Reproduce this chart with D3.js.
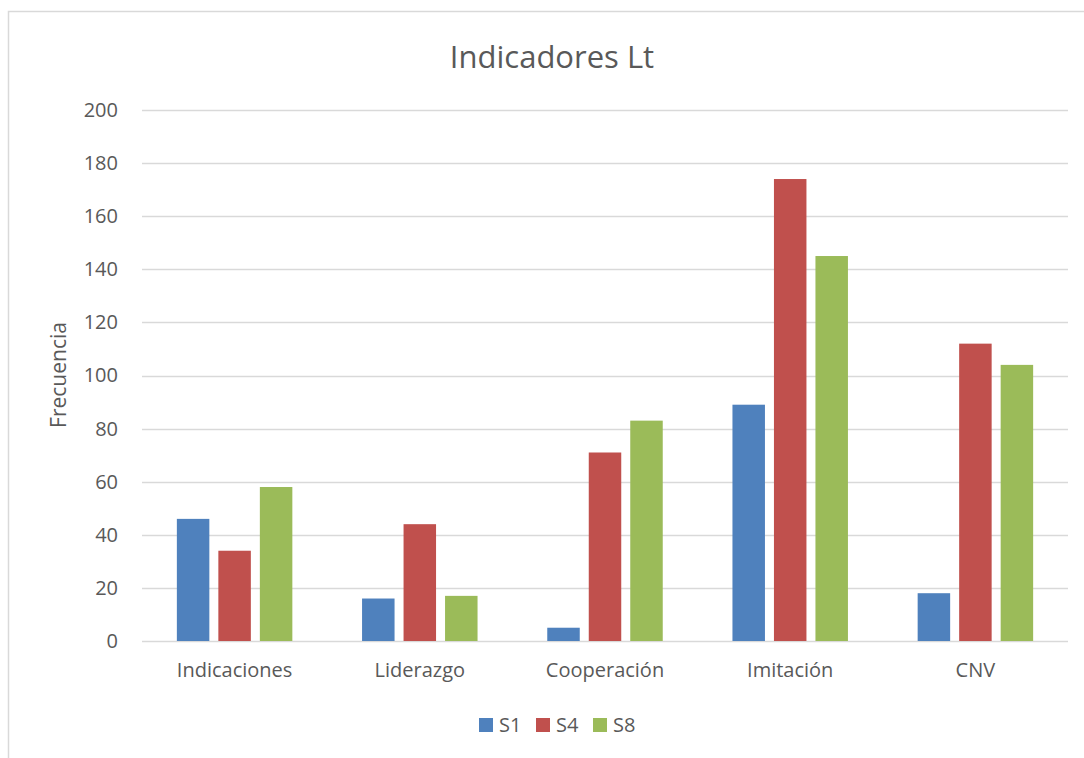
<!DOCTYPE html>
<html>
<head>
<meta charset="utf-8">
<script src="https://cdn.jsdelivr.net/npm/d3@7"></script>
<style>
  html, body { margin: 0; padding: 0; background: #fff; }
  svg { display: block; font-family: "Open Sans", "Liberation Sans", sans-serif; }
</style>
</head>
<body>
<svg id="chart" width="1084" height="758"></svg>
<script>
// Frequency of indicators per session
const categories = ["Indicaciones", "Liderazgo", "Cooperación", "Imitación", "CNV"];
const seriesNames = ["S1", "S4", "S8"];
const s1 = [46, 16, 5, 89, 18];
const s4 = [34, 44, 71, 174, 112];
const s8 = [58, 17, 83, 145, 104];
const yTicks = [0, 20, 40, 60, 80, 100, 120, 140, 160, 180, 200];
const colors = ["#4F81BD", "#C0504D", "#9BBB59"];

const seriesValues = [s1, s4, s8];
const rows = categories.map((c, i) => ({
  category: c,
  values: seriesNames.map((s, j) => ({ series: s, value: seriesValues[j][i] }))
}));

const svg = d3.select("#chart");
const textColor = "#595959";
const labelFont = "\"Open Sans\", sans-serif";

// outer chart frame
svg.append("rect")
  .attr("x", 8.5).attr("y", 11.5)
  .attr("width", 1200).attr("height", 900)
  .attr("fill", "none").attr("stroke", "#D9D9D9").attr("stroke-width", 1.5);

const plot = { left: 142, right: 1068, top: 110, bottom: 641 };

const x0 = d3.scaleBand().domain(categories).range([plot.left, plot.right]).padding(0);
const x1 = d3.scaleBand().domain(seriesNames).range([0, x0.bandwidth()])
  .paddingInner(0.217).paddingOuter(0.84);
const y = d3.scaleLinear().domain([0, 200]).range([plot.bottom, plot.top]);
const color = d3.scaleOrdinal().domain(seriesNames).range(colors);

// horizontal gridlines
svg.append("g")
  .selectAll("line")
  .data(yTicks)
  .join("line")
  .attr("x1", plot.left).attr("x2", plot.right)
  .attr("y1", d => Math.round(y(d)) + 0.5).attr("y2", d => Math.round(y(d)) + 0.5)
  .attr("stroke", "#D9D9D9").attr("stroke-width", 1.5);

// y axis labels
const yAxis = svg.append("g")
  .attr("transform", `translate(${plot.left - 24},0)`)
  .call(d3.axisLeft(y).tickValues(yTicks).tickSize(0).tickPadding(0));
yAxis.select(".domain").remove();
yAxis.selectAll("text")
  .attr("fill", textColor).attr("font-size", 20)
  .attr("font-family", labelFont);

// bars
svg.append("g")
  .selectAll("g")
  .data(rows)
  .join("g")
  .attr("transform", d => `translate(${x0(d.category)},0)`)
  .selectAll("rect")
  .data(d => d.values)
  .join("rect")
  .attr("x", d => x1(d.series))
  .attr("width", x1.bandwidth())
  .attr("y", d => y(d.value))
  .attr("height", d => y(0) - y(d.value))
  .attr("fill", d => color(d.series));

// category axis labels
const xAxis = svg.append("g")
  .attr("transform", `translate(0,${plot.bottom + 22})`)
  .call(d3.axisBottom(x0).tickSize(0).tickPadding(0));
xAxis.select(".domain").remove();
xAxis.selectAll("text")
  .attr("fill", textColor).attr("font-size", 20)
  .attr("font-family", labelFont);

// title
svg.append("text")
  .attr("x", 552).attr("y", 68)
  .attr("text-anchor", "middle")
  .attr("fill", textColor)
  .attr("font-size", 31)
  .text("Indicadores Lt");

// y axis title
svg.append("text")
  .attr("transform", `translate(66,375) rotate(-90)`)
  .attr("text-anchor", "middle")
  .attr("fill", textColor)
  .attr("font-size", 21)
  .text("Frecuencia");

// legend
const legendItems = [
  { name: "S1", x: 479 },
  { name: "S4", x: 536 },
  { name: "S8", x: 593 }
];
const legend = svg.append("g");
legend.selectAll("rect")
  .data(legendItems)
  .join("rect")
  .attr("x", d => d.x).attr("y", 718)
  .attr("width", 14).attr("height", 14)
  .attr("fill", d => color(d.name));
legend.selectAll("text")
  .data(legendItems)
  .join("text")
  .attr("x", d => d.x + 20).attr("y", 732)
  .attr("fill", textColor)
  .attr("font-size", 20)
  .text(d => d.name);
</script>
</body>
</html>
